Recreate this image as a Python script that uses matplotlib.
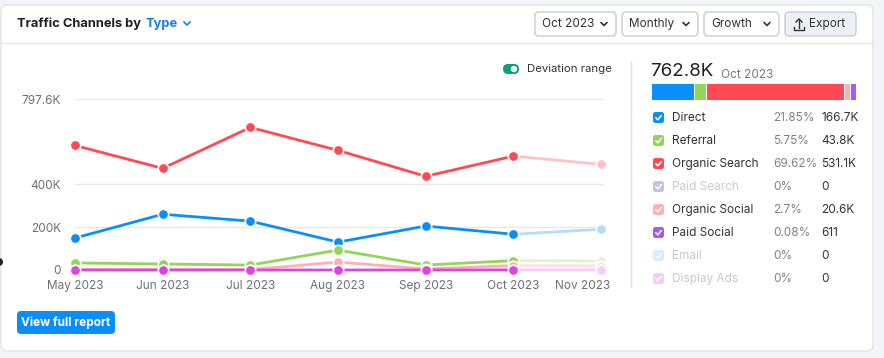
import numpy as np
import matplotlib.pyplot as plt
import matplotlib.transforms as mtransforms
from matplotlib.patches import FancyBboxPatch, Rectangle, Circle

plt.rcParams['font.family'] = ['Inter', 'DejaVu Sans']

# ---- data ----
months = ['May 2023', 'Jun 2023', 'Jul 2023', 'Aug 2023', 'Sep 2023', 'Oct 2023', 'Nov 2023']
organic_search = [581000, 474000, 665000, 558000, 437000, 531100, 493000]
direct = [149000, 260000, 228000, 130000, 205000, 166700, 190000]
referral = [33000, 28000, 23000, 93000, 23000, 43800, 42000]
organic_social = [2000, 2000, 2000, 37000, 5000, 20600, 19000]
paid_social = [0, 0, 0, 0, 0, 611, 600]

y_ticks = [0, 200000, 400000, 797600]
y_tick_labels = ['0', '200K', '400K', '797.6K']

legend_names = ['Direct', 'Referral', 'Organic Search', 'Paid Search',
                'Organic Social', 'Paid Social', 'Email', 'Display Ads']
legend_pcts = ['21.85%', '5.75%', '69.62%', '0%', '2.7%', '0.08%', '0%', '0%']
legend_vals = ['166.7K', '43.8K', '531.1K', '0', '20.6K', '611', '0', '0']
legend_share = [21.85, 5.75, 69.62, 0, 2.7, 0.08, 0, 0]
legend_active = [True, True, True, False, True, True, False, False]
total_label = '762.8K'
period_label = 'Oct 2023'

# colours
c_blue, c_blue_l = '#0a8ffa', '#b6dcfd'
c_red, c_red_l = '#ff4953', '#ffc3c6'
c_green, c_green_l = '#93d45a', '#e0f3d2'
c_pink, c_pink_l = '#ffb0b5', '#ffe1e3'
c_mag, c_mag_l = '#dd44e3', '#f6cdf8'
legend_colors = [c_blue, c_green, c_red, '#cbbfe0', '#ffb0b5', '#a35cf5', '#d8ecfd', '#f7cdf2']

W, H = 884, 358
fig = plt.figure(figsize=(W / 100, H / 100), dpi=100)
fig.patch.set_facecolor('#f3f4f8')

# pixel-space overlay for the card / UI
ui = fig.add_axes([0, 0, 1, 1], zorder=0)
ui.set_xlim(0, W)
ui.set_ylim(H, 0)
ui.axis('off')

ui.add_patch(FancyBboxPatch((1, 5), 872, 346, boxstyle='round,pad=0,rounding_size=6',
                            fc='white', ec='#e4e5ea', lw=1))
ui.plot([1, 873], [43, 43], color='#e6e7ec', lw=1)

# title
ui.text(17, 24, 'Traffic Channels by', fontsize=9.3, fontweight='bold', color='#1f2023', va='center')
ui.text(146, 24, 'Type', fontsize=9.3, fontweight='bold', color='#1a7de0', va='center')
ui.plot([184, 187, 190], [22, 25, 22], color='#1a7de0', lw=1.2)


def chevron(x, y, col='#333'):
    ui.plot([x - 3, x, x + 3], [y - 1.5, y + 1.5, y - 1.5], color=col, lw=1.2,
            solid_capstyle='round')


for x0, x1, label in [(535, 616, 'Oct 2023'), (622, 698, 'Monthly'), (704, 779, 'Growth')]:
    ui.add_patch(FancyBboxPatch((x0, 12), x1 - x0, 24, boxstyle='round,pad=0,rounding_size=4',
                                fc='white', ec='#c9cbd2', lw=1))
    ui.text(x0 + 7, 24, label, fontsize=8.5, color='#333', va='center')
    chevron(x1 - 12, 24)
ui.add_patch(FancyBboxPatch((785, 12), 71, 24, boxstyle='round,pad=0,rounding_size=4',
                            fc='#eef0f4', ec='#c9cbd2', lw=1))
ui.text(809, 24, 'Export', fontsize=8.5, color='#333', va='center')
ui.plot([799, 799], [19, 28], color='#333', lw=1)
ui.plot([796, 799, 802], [22, 19, 22], color='#333', lw=1)
ui.plot([794, 794, 804, 804], [27, 30, 30, 27], color='#333', lw=1)

# deviation toggle
ui.add_patch(FancyBboxPatch((503, 64), 16, 10, boxstyle='round,pad=0,rounding_size=5',
                            fc='#0a9e7a', ec='none'))
ui.add_patch(Circle((514, 69), 3.2, fc='white', ec='none'))
ui.text(527, 69, 'Deviation range', fontsize=8.2, color='#333', va='center')

# divider
ui.plot([631, 631], [62, 287], color='#dcdde2', lw=1)

# artefact dot on left edge
ui.add_patch(Circle((-1, 262), 4, fc='#222', ec='none'))

# view full report button
ui.add_patch(FancyBboxPatch((17, 311), 98, 23, boxstyle='round,pad=0,rounding_size=4',
                            fc='#0a8ffa', ec='none'))
ui.text(66, 322.5, 'View full report', fontsize=8.5, fontweight='bold', color='white',
        va='center', ha='center')

# ---- right panel ----
ui.text(650, 72, total_label, fontsize=13.5, color='#1f2023', va='center')
ui.text(721, 75, period_label, fontsize=8.5, color='#777983', va='center')

bar_x0, bar_w = 652, 205
min_w = 6
shares = np.array(legend_share)
widths = np.where(shares > 0, np.maximum(shares / shares.sum() * bar_w, min_w), 0)
widths = widths * bar_w / widths.sum()
x = bar_x0
for w, col in zip(widths, legend_colors):
    if w <= 0:
        continue
    ui.add_patch(Rectangle((x, 84), w - 1, 16, fc=col, ec='none'))
    x += w

for i, name in enumerate(legend_names):
    y = 118 + i * 23
    col = legend_colors[i]
    ui.add_patch(FancyBboxPatch((653, y - 6), 11, 11, boxstyle='round,pad=0,rounding_size=2.5',
                                fc=col, ec='none'))
    ui.plot([655.8, 657.8, 661.3], [y - 0.3, y + 1.8, y - 2.5], color='white', lw=1.1,
            solid_capstyle='round')
    tcol = '#333' if legend_active[i] else '#c8c9ce'
    ui.text(672, y, name, fontsize=8.5, color=tcol, va='center')
    ui.text(773, y, legend_pcts[i], fontsize=8.5, color='#80828b', va='center')
    ui.text(821, y, legend_vals[i], fontsize=8.5, color='#333', va='center')

# ---- line chart ----
left, right, top, bottom = 75, 604, 99, 270
ax = fig.add_axes([left / W, (H - bottom) / H, (right - left) / W, (bottom - top) / H], zorder=2)
ax.patch.set_alpha(0)
xs = np.arange(len(months))
ax.set_xlim(0, 6 * (right - left) / (601 - 75))
ax.set_ylim(0, 797600)
ax.set_yticks(y_ticks)
ax.set_yticklabels(y_tick_labels)
ax.set_xticks(xs)
ax.set_xticklabels(months)
ax.tick_params(axis='y', length=0, pad=10, labelsize=8.5, labelcolor='#6d6f78')
ax.tick_params(axis='x', length=0, pad=7, labelsize=8.5, labelcolor='#6d6f78')
last = ax.get_xticklabels()[-1]
last.set_horizontalalignment('right')
last.set_transform(last.get_transform() +
                   mtransforms.ScaledTranslation(9 / 100, 0, fig.dpi_scale_trans))
for s in ax.spines.values():
    s.set_visible(False)
ax.grid(axis='y', color='#e8e9ee', lw=1)
ax.set_axisbelow(True)

series = [
    (organic_search, c_red, c_red_l),
    (direct, c_blue, c_blue_l),
    (referral, c_green, c_green_l),
    (organic_social, c_pink, c_pink_l),
    (paid_social, c_mag, c_mag_l),
]
for z, (vals, col, col_l) in enumerate(series):
    vals = np.array(vals)
    ax.plot(xs[5:], vals[5:], color=col_l, lw=2, zorder=3 + z, clip_on=False)
    ax.plot(xs[:6], vals[:6], color=col, lw=2, zorder=3 + z, clip_on=False)
    ax.plot(xs[:6], vals[:6], 'o', ms=7.5, mfc=col, mec='white', mew=1.2, zorder=3 + z,
            clip_on=False)
    ax.plot(xs[6:], vals[6:], 'o', ms=7.5, mfc=col_l, mec='white', mew=1.2, zorder=3 + z,
            clip_on=False)

fig.savefig('out.png', dpi=100)
